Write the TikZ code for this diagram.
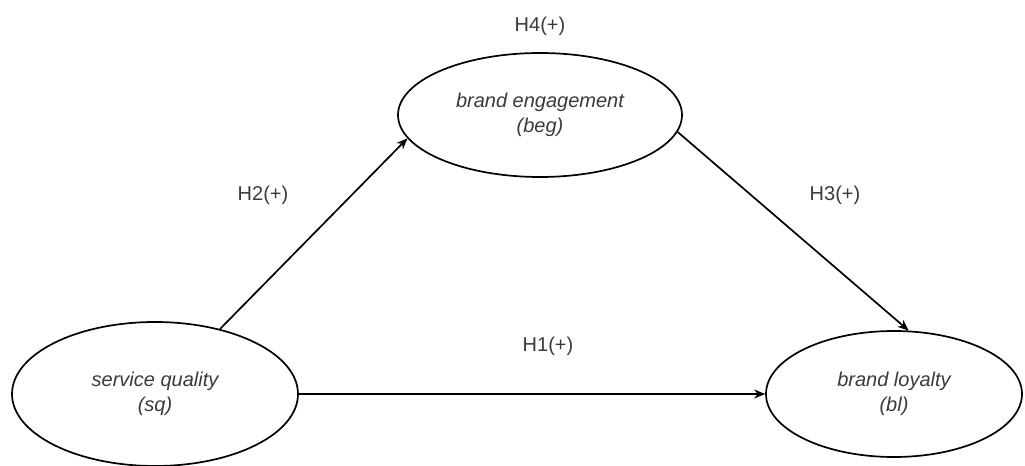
\documentclass[tikz,border=0pt]{standalone}
\usepackage{fontspec}
\setmainfont{Liberation Sans}
\usepackage{xcolor}
\usetikzlibrary{positioning, shapes.geometric, arrows.meta}
\definecolor{txtgray}{HTML}{3A3A3A}

\begin{document}
\begin{tikzpicture}[
        x=0.5pt, y=-0.5pt,
        construct/.style={draw, ellipse, inner sep=0pt, line width=0.85pt, align=center, text=txtgray, font=\fontsize{10}{12.5}\selectfont\itshape},
        hyp/.style={text=txtgray, font=\fontsize{10}{12}\selectfont},
        arrow/.style={-{Stealth[length=5.5pt, width=4.5pt]}, line width=0.85pt}
    ]
        \useasboundingbox (0,0) rectangle (1025,466);

        % Nodes
        \node[construct, minimum width=143pt, minimum height=72pt] (sq) at (155,394) {service quality\\(sq)};
        \node[construct, minimum width=142pt, minimum height=62pt] (beg) at (540,115) {brand engagement\\(beg)};
        \node[construct, minimum width=128pt, minimum height=63pt] (bl) at (894,394) {brand loyalty\\(bl)};

        \node[hyp, above=4.5pt of beg] (h4) {H4(+)};
        \node[hyp] (h2) at (263,195) {H2(+)};
        \node[hyp] (h3) at (835,195) {H3(+)};
        \node[hyp] (h1) at (548,346) {H1(+)};

        % Paths
        \draw[arrow] (sq.45) -- (beg.190);
        \draw[arrow] (beg.-7) -- (bl.77);
        \draw[arrow] (sq) -- (bl);

    \end{tikzpicture}
\end{document}
